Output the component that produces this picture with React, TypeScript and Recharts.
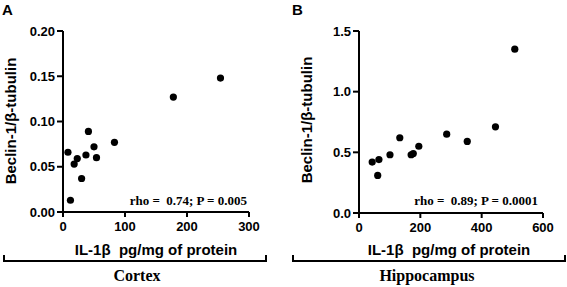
import { ScatterChart, Scatter, XAxis, YAxis } from "recharts";

const cortexIL = [8, 12, 18, 23, 30, 37, 41, 50, 54, 83, 178, 254];
const cortexBeclin = [0.066, 0.013, 0.053, 0.059, 0.037, 0.063, 0.089, 0.072, 0.06, 0.077, 0.127, 0.148];

const hippoIL = [43, 61, 65, 101, 133, 170, 177, 195, 286, 353, 445, 508];
const hippoBeclin = [0.42, 0.31, 0.44, 0.48, 0.62, 0.48, 0.49, 0.55, 0.65, 0.59, 0.71, 1.35];

const cortexXTicks = [0, 100, 200, 300];
const cortexYTicks = [0, 0.05, 0.1, 0.15, 0.2];
const hippoXTicks = [0, 200, 400, 600];
const hippoYTicks = [0, 0.5, 1.0, 1.5];

const cortexData = cortexIL.map((x, i) => ({ x, y: cortexBeclin[i] }));
const hippoData = hippoIL.map((x, i) => ({ x, y: hippoBeclin[i] }));

const axisStroke = { stroke: "#000", strokeWidth: 2 };
const tickFont = {
  fill: "#000",
  fontSize: 13,
  fontWeight: 700,
  fontFamily: "Liberation Sans, Arial, sans-serif",
};

const dot = (props: any) => <circle cx={props.cx} cy={props.cy} r={3.6} fill="#000" />;

function Panel({
  data,
  xTicks,
  yTicks,
  yDigits,
  yAxisWidth,
  right,
  width,
  bottom,
}: {
  data: { x: number; y: number }[];
  xTicks: number[];
  yTicks: number[];
  yDigits: number;
  yAxisWidth: number;
  right: number;
  width: number;
  bottom: number;
}) {
  return (
    <ScatterChart width={width} height={287} margin={{ top: 31, right, bottom: bottom - 30, left: 0 }}>
      <XAxis
        type="number"
        dataKey="x"
        domain={[xTicks[0], xTicks[xTicks.length - 1]]}
        ticks={xTicks}
        height={30}
        axisLine={axisStroke}
        tickLine={axisStroke}
        tickSize={5}
        tickMargin={5}
        tick={tickFont}
        interval={0}
      />
      <YAxis
        type="number"
        dataKey="y"
        domain={[yTicks[0], yTicks[yTicks.length - 1]]}
        ticks={yTicks}
        width={yAxisWidth}
        axisLine={axisStroke}
        tickLine={axisStroke}
        tickSize={6}
        tickMargin={2}
        tick={tickFont}
        interval={0}
        tickFormatter={(v: number) => v.toFixed(yDigits)}
      />
      <Scatter data={data} shape={dot} isAnimationActive={false} />
    </ScatterChart>
  );
}

export default function App() {
  const sans = "Liberation Sans, Arial, sans-serif";
  const serif = "Liberation Serif, Times New Roman, serif";
  return (
    <div style={{ position: "absolute", left: 0, top: 0, width: 567, height: 287, background: "#fff" }}>
      <div style={{ position: "absolute", left: 0, top: 0 }}>
        <Panel data={cortexData} xTicks={cortexXTicks} yTicks={cortexYTicks} yDigits={2} yAxisWidth={63} right={41} width={290} bottom={75} />
      </div>
      <div style={{ position: "absolute", left: 290, top: 0 }}>
        <Panel data={hippoData} xTicks={hippoXTicks} yTicks={hippoYTicks} yDigits={1} yAxisWidth={69} right={24} width={277} bottom={74} />
      </div>
      <svg width={567} height={287} style={{ position: "absolute", left: 0, top: 0, pointerEvents: "none" }}>
        <text x={2} y={15} fontFamily={sans} fontWeight={700} fontSize={15}>A</text>
        <text x={292} y={15} fontFamily={sans} fontWeight={700} fontSize={15}>B</text>

        <text transform="translate(16,121) rotate(-90)" textAnchor="middle" fontFamily={sans} fontWeight={700} fontSize={15}>Beclin-1/β-tubulin</text>
        <text transform="translate(312,120) rotate(-90)" textAnchor="middle" fontFamily={sans} fontWeight={700} fontSize={15}>Beclin-1/β-tubulin</text>

        <text x={156} y={255} textAnchor="middle" fontFamily={sans} fontWeight={700} fontSize={15} style={{ whiteSpace: "pre" }}>IL-1β  pg/mg of protein</text>
        <text x={449} y={255} textAnchor="middle" fontFamily={sans} fontWeight={700} fontSize={15} style={{ whiteSpace: "pre" }}>IL-1β  pg/mg of protein</text>

        <text x={247} y={205} textAnchor="end" fontFamily={serif} fontWeight={700} fontSize={13} style={{ whiteSpace: "pre" }}>rho =  0.74; P = 0.005</text>
        <text x={538} y={205} textAnchor="end" fontFamily={serif} fontWeight={700} fontSize={13} style={{ whiteSpace: "pre" }}>rho =  0.89; P = 0.0001</text>

        <path d="M4,255 V261 H266 V255" fill="none" stroke="#000" strokeWidth={2} />
        <path d="M293,255 V261 H565 V255" fill="none" stroke="#000" strokeWidth={2} />

        <text x={137} y={281} textAnchor="middle" fontFamily={serif} fontWeight={700} fontSize={16}>Cortex</text>
        <text x={427} y={281} textAnchor="middle" fontFamily={serif} fontWeight={700} fontSize={16}>Hippocampus</text>
      </svg>
    </div>
  );
}
